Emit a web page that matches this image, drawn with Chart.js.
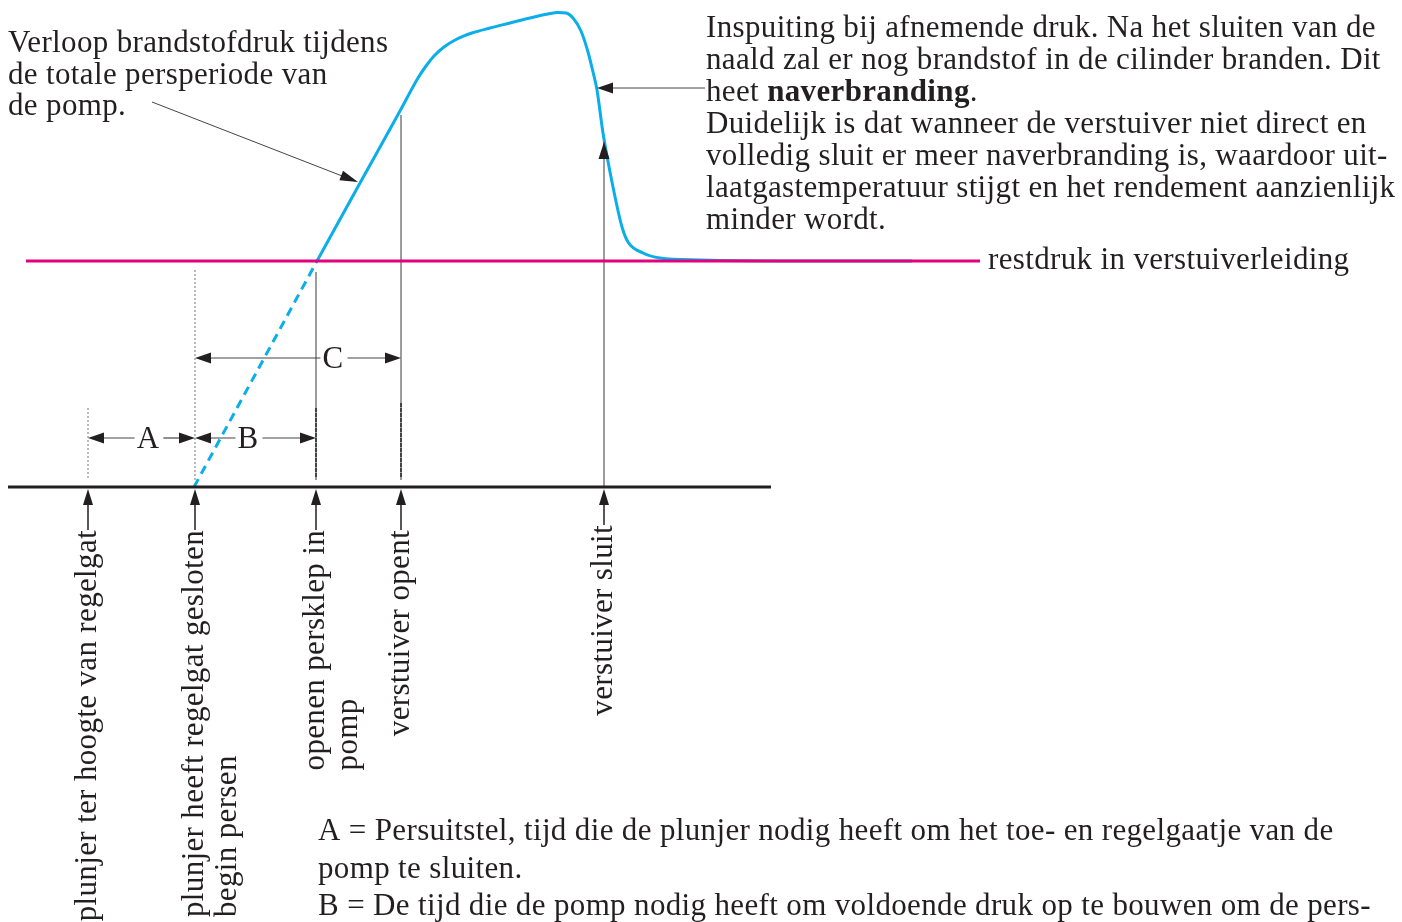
<!DOCTYPE html>
<html>
<head>
<meta charset="utf-8">
<script src="https://cdn.jsdelivr.net/npm/chart.js@4.4.1/dist/chart.umd.min.js"></script>
<style>
  html, body { margin: 0; padding: 0; background: #fff; }
  canvas { display: block; }
</style>
</head>
<body>
<canvas id="chart" width="1402" height="922"></canvas>
<script>
const FONT = '"Liberation Serif", "Times New Roman", serif';
const SIZE = 31;
const INK = '#231f20';
const THIN = '#5a5b5d';

// pressure course: time (x) against pressure height (y, counted down from the top of the sheet)
const dashedT = [194, 317];
const dashedP = [487, 261];
const curveT = [317, 360, 400, 418, 426, 434, 444, 457, 472, 490, 510, 530, 548, 558, 566, 573, 581, 588, 593, 597, 603, 613, 622, 628, 643, 660, 700, 800, 912];
const curveP = [261, 183, 111, 78, 66, 56, 47, 39, 33, 28, 23, 18, 14, 12.5, 13, 18, 31, 52, 72, 90, 133, 187, 227, 242, 253, 258, 260, 261, 261];
const restT = [26, 980];
const restP = 261;
const axisT = [8, 771];
const axisP = 487;

// moments on the time axis
const eventT = [88, 195, 316, 401, 604];
const eventTop = [408, 270, 272, 115, 142];
const eventDotted = [true, true, false, false, false];
const eventLabels = [
  ['plunjer ter hoogte van regelgat'],
  ['plunjer heeft regelgat gesloten', 'begin persen'],
  ['openen persklep in', 'pomp'],
  ['verstuiver opent'],
  ['verstuiver sluit'],
];
const labelEnd = [530, 530, 530, 530, 525];
// darker dashed bits just above the axis
const tickT = [316, 401];
const tickTop = [408, 403];

// interval dimensions
const spanNames = ['A', 'B', 'C'];
const spanStart = [88, 195, 195];
const spanEnd = [195, 316, 401];
const spanLevel = [438, 438, 358];
const spanTextAt = [148, 248, 333];

// text blocks
const noteLeft = ['Verloop brandstofdruk tijdens', 'de totale persperiode van', 'de pomp.'];
const noteRight = [
  'Inspuiting bij afnemende druk. Na het sluiten van de',
  'naald zal er nog brandstof in de cilinder branden. Dit',
  ['heet ', '**naverbranding', '.'],
  'Duidelijk is dat wanneer de verstuiver niet direct en',
  'volledig sluit er meer naverbranding is, waardoor uit-',
  'laatgastemperatuur stijgt en het rendement aanzienlijk',
  'minder wordt.',
];
const restLabel = 'restdruk in verstuiverleiding';
const legendLines = [
  'A = Persuitstel, tijd die de plunjer nodig heeft om het toe- en regelgaatje van de',
  'pomp te sluiten.',
  'B = De tijd die de pomp nodig heeft om voldoende druk op te bouwen om de pers-',
];

function pts(xs, ys) {
  return xs.map((x, i) => ({ x, y: Array.isArray(ys) ? ys[i] : ys }));
}

function line(data, color, width, extra) {
  return Object.assign({
    data,
    showLine: true,
    borderColor: color,
    borderWidth: width,
    pointRadius: 0,
    fill: false,
    tension: 0,
  }, extra || {});
}

const datasets = [
  line(pts(axisT, axisP), INK, 3),
  line(pts(restT, restP), '#e4007c', 3),
];
eventT.forEach((t, i) => {
  datasets.push(line(pts([t, t], [eventTop[i], i === 4 ? 487 : 480]), eventDotted[i] ? '#777' : THIN, 1.2,
    eventDotted[i] ? { borderDash: [2, 2], borderWidth: 1 } : {}));
  // stub from the axis down to the label
  datasets.push(line(pts([t, t], [500, labelEnd[i]]), INK, 1.5));
});
tickT.forEach((t, i) => {
  datasets.push(line(pts([t, t], [tickTop[i], 478]), INK, 2, { borderDash: [4, 1] }));
});
datasets.push(line(pts(dashedT, dashedP), '#0aaee9', 3, { borderDash: [9, 6] }));
datasets.push(line(pts(curveT, curveP), '#0aaee9', 3, { cubicInterpolationMode: 'monotone' }));

function arrowHead(ctx, tx, ty, fx, fy, len, half) {
  const a = Math.atan2(ty - fy, tx - fx);
  ctx.save();
  ctx.translate(tx, ty);
  ctx.rotate(a);
  ctx.beginPath();
  ctx.moveTo(0, 0);
  ctx.lineTo(-len, -half);
  ctx.lineTo(-len, half);
  ctx.closePath();
  ctx.fillStyle = INK;
  ctx.fill();
  ctx.restore();
}

function seg(ctx, x1, y1, x2, y2, color, w) {
  ctx.beginPath();
  ctx.moveTo(x1, y1);
  ctx.lineTo(x2, y2);
  ctx.strokeStyle = color;
  ctx.lineWidth = w;
  ctx.stroke();
}

const annotations = {
  id: 'annotations',
  afterDatasetsDraw(chart) {
    const { ctx, scales: { x, y } } = chart;
    const px = v => x.getPixelForValue(v);
    const py = v => y.getPixelForValue(v);
    const regular = SIZE + 'px ' + FONT;
    ctx.save();
    ctx.fillStyle = INK;
    ctx.letterSpacing = '0.35px';
    ctx.font = regular;
    ctx.textBaseline = 'alphabetic';

    // arrows on the axis pointing up from every label
    eventT.forEach(t => arrowHead(ctx, px(t), py(489), px(t), py(520), 16, 5));

    // pointer arrows
    seg(ctx, 152, 102, 355, 181, '#444', 1);
    arrowHead(ctx, px(358), py(182), 152, 102, 18, 5);
    seg(ctx, 705, 88, 605, 88, '#444', 1);
    arrowHead(ctx, px(597), py(88), 705, 88, 16, 5.5);
    arrowHead(ctx, px(604), py(142), px(604), py(300), 17, 5.5);

    // dimension lines
    ctx.textAlign = 'center';
    spanNames.forEach((n, i) => {
      const x1 = px(spanStart[i]), x2 = px(spanEnd[i]), yy = py(spanLevel[i]);
      const c = px(spanTextAt[i]);
      const w = ctx.measureText(n).width;
      seg(ctx, x1 + 6, yy, c - w / 2 - 2, yy, '#444', 1.2);
      seg(ctx, c + w / 2 + 4, yy, x2 - 6, yy, '#444', 1.2);
      arrowHead(ctx, x1, yy, x2, yy, 16, 5.5);
      arrowHead(ctx, x2, yy, x1, yy, 16, 5.5);
      ctx.fillText(n, c, yy + 10);
    });

    // rotated labels under the axis
    ctx.textAlign = 'left';
    ctx.textBaseline = 'middle';
    eventLabels.forEach((lines, i) => {
      const w = ctx.measureText(lines[0]).width;
      ctx.save();
      ctx.translate(px(eventT[i]), py(labelEnd[i]) + w);
      ctx.rotate(-Math.PI / 2);
      lines.forEach((l, k) => ctx.fillText(l, 0, k * 33));
      ctx.restore();
    });

    // free text
    ctx.textBaseline = 'alphabetic';
    noteLeft.forEach((l, k) => ctx.fillText(l, 8, 52 + k * 31.5));
    noteRight.forEach((l, k) => {
      let xx = 706;
      const parts = Array.isArray(l) ? l : [l];
      parts.forEach(p => {
        const bold = p.startsWith('**');
        const s = bold ? p.slice(2) : p;
        ctx.font = bold ? 'bold ' + regular : regular;
        ctx.fillText(s, xx, 37 + k * 32);
        xx += ctx.measureText(s).width;
      });
      ctx.font = regular;
    });
    ctx.fillText(restLabel, 988, 269);
    legendLines.forEach((l, k) => ctx.fillText(l, 318, 840 + k * 37.5));
    ctx.restore();
  },
};

new Chart(document.getElementById('chart'), {
  type: 'scatter',
  data: { datasets },
  options: {
    responsive: false,
    animation: false,
    events: [],
    layout: { padding: 0 },
    plugins: { legend: { display: false }, tooltip: { enabled: false } },
    scales: {
      x: { type: 'linear', min: 0, max: 1402, display: false },
      y: { type: 'linear', min: 0, max: 922, reverse: true, display: false },
    },
  },
  plugins: [annotations],
});
</script>
</body>
</html>
